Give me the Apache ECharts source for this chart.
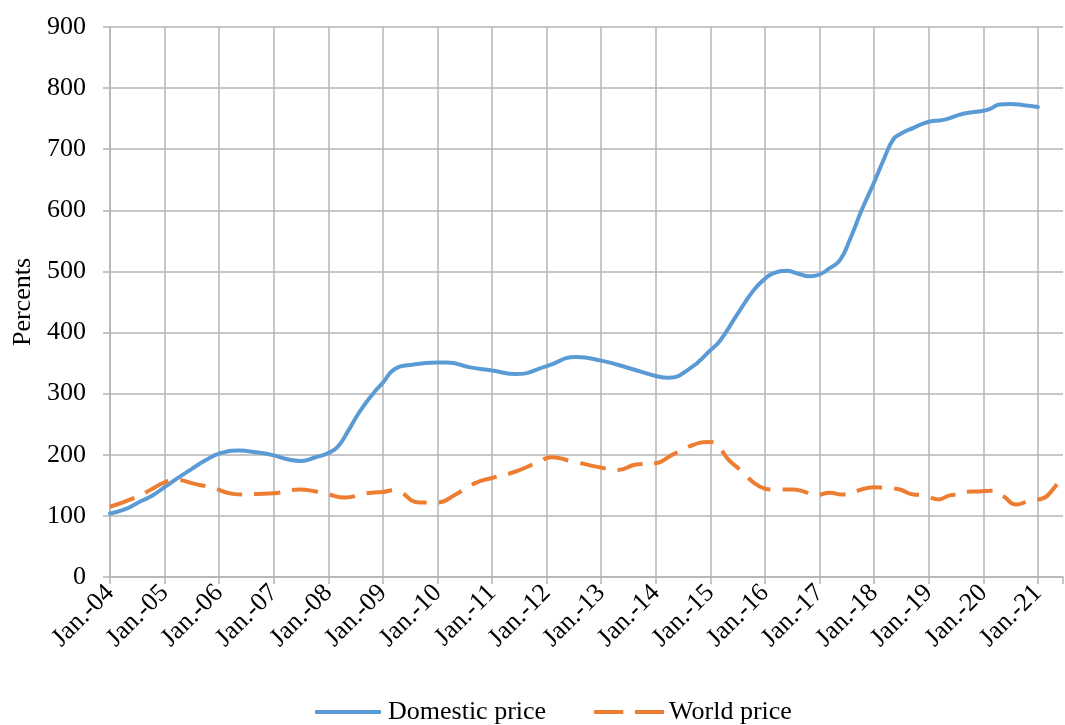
<!DOCTYPE html>
<html>
<head>
<meta charset="utf-8">
<script src="https://cdn.jsdelivr.net/npm/echarts@6/dist/echarts.min.js"></script>
<style>
html,body{margin:0;padding:0;background:#fff;}
#chart{width:1065px;height:725px;}
</style>
</head>
<body>
<div id="chart"></div>
<script>
// Dates as decimal years, values in percents
var domesticDates = [2004.0,2004.28,2004.52,2004.77,2005.0,2005.26,2005.5,2005.75,2006.0,2006.37,2006.68,2007.0,2007.23,2007.5,2007.77,2008.0,2008.17,2008.35,2008.57,2008.82,2009.0,2009.21,2009.5,2010.0,2010.17,2010.6,2011.0,2011.44,2012.0,2012.54,2013.0,2013.5,2014.0,2014.23,2014.62,2015.0,2015.18,2015.48,2015.79,2016.0,2016.15,2016.4,2016.58,2016.82,2017.0,2017.18,2017.37,2017.55,2017.77,2018.0,2018.17,2018.35,2018.48,2018.72,2019.0,2019.27,2019.63,2020.0,2020.12,2020.3,2020.5,2020.74,2021.0];
var domesticValues = [104,111,122,133,147,163,177,191,202,207,204,199,193,190,196,203,213,237,270,300,318,340,347,351,351,343,338,332,345,360,354,342,329,326,341,371,387,428,469,488,497,501,497,492,495,505,518,551,600,646,682,716,725,735,745,748,758,763,766,773,774,772,769];

var worldDates = [2004.0,2004.46,2004.77,2005.0,2005.2,2005.57,2005.88,2006.25,2006.43,2006.68,2007.0,2007.47,2007.77,2008.0,2008.3,2008.7,2009.0,2009.2,2009.67,2010.0,2010.33,2010.7,2011.0,2011.38,2011.8,2012.1,2012.43,2013.0,2013.3,2013.64,2014.0,2014.28,2014.68,2015.0,2015.15,2015.33,2015.55,2015.9,2016.15,2016.52,2016.67,2016.95,2017.18,2017.42,2017.68,2018.0,2018.17,2018.45,2018.72,2018.9,2019.18,2019.4,2019.57,2019.63,2019.91,2020.18,2020.37,2020.6,2020.86,2021.07,2021.29,2021.46];
var worldValues = [115,130,144,155,159,152,146,136,135,136,137,143,140,135,130,137,139,142,122,122,135,154,162,171,186,196,190,179,175,184,186,199,216,221,213,192,175,148,143,143,141,134,138,135,141,147,146,143.5,135,134,127,134,135,139,140,141,132,118.5,125.5,128,145,168];

var seriesNames = ['Domestic price', 'World price'];
var yAxisName = 'Percents';
var xStart = 2004, xEnd = 2021.46;

function pairs(d, v) { return d.map(function (x, i) { return [x, v[i]]; }); }

var FONT = "'Liberation Serif','Times New Roman',serif";
var GRID = '#b4b4b4';
var BLUE = '#5B9BD5', ORANGE = '#ED7D31';
var chart = echarts.init(document.getElementById('chart'), null, {renderer: 'canvas'});
chart.setOption({
  animation: false,
  backgroundColor: '#fff',
  textStyle: {fontFamily: FONT},
  grid: {left: 110, right: 2, top: 27, bottom: 148, containLabel: false, outerBoundsMode: 'none'},
  xAxis: {
    type: 'value', min: xStart, max: xEnd, interval: 1,
    axisLine: {show: true, onZero: true, lineStyle: {color: GRID, width: 1.5}},
    axisTick: {show: true, inside: false, length: 7, lineStyle: {color: GRID, width: 1.5}},
    splitLine: {show: true, showMaxLine: false, lineStyle: {color: GRID, width: 1.5}},
    axisLabel: {
      rotate: 45, margin: 12, fontSize: 26, color: '#000', fontFamily: FONT,
      showMaxLabel: true, hideOverlap: false,
      formatter: function (v) {
        if (Math.abs(v - Math.round(v)) > 1e-6) return '';
        return 'Jan.-' + String(Math.round(v)).slice(2);
      }
    }
  },
  yAxis: {
    type: 'value', min: 0, max: 900, interval: 100,
    name: yAxisName, nameLocation: 'middle', nameRotate: 90, nameGap: 74,
    nameTextStyle: {fontSize: 26, color: '#000', fontFamily: FONT},
    axisLine: {show: true, lineStyle: {color: GRID, width: 1.5}},
    axisTick: {show: true, inside: false, length: 7, lineStyle: {color: GRID, width: 1.5}},
    splitLine: {show: true, lineStyle: {color: GRID, width: 1.5}},
    axisLabel: {margin: 24, fontSize: 26, color: '#000', fontFamily: FONT}
  },
  legend: {
    top: 694, left: 310, itemWidth: 70, itemHeight: 4, itemGap: 48,
    textStyle: {fontSize: 26, color: '#000', fontFamily: FONT},
    data: [
      {name: seriesNames[0], icon: 'path://M0,0h66v4h-66z', itemStyle: {color: BLUE}},
      {name: seriesNames[1], icon: 'path://M0,0h30v4h-30zM42,0h30v4h-30z', itemStyle: {color: ORANGE}}
    ]
  },
  series: [
    {
      name: seriesNames[0], type: 'line', showSymbol: false, symbol: 'none',
      smooth: 0.5,
      data: pairs(domesticDates, domesticValues),
      lineStyle: {color: BLUE, width: 4, cap: 'round', join: 'round'},
      itemStyle: {color: BLUE}
    },
    {
      name: seriesNames[1], type: 'line', showSymbol: false, symbol: 'none',
      smooth: 0.5,
      data: pairs(worldDates, worldValues),
      lineStyle: {color: ORANGE, width: 4, type: [26, 12], cap: 'butt', join: 'round'},
      itemStyle: {color: ORANGE}
    }
  ]
});
</script>
</body>
</html>
